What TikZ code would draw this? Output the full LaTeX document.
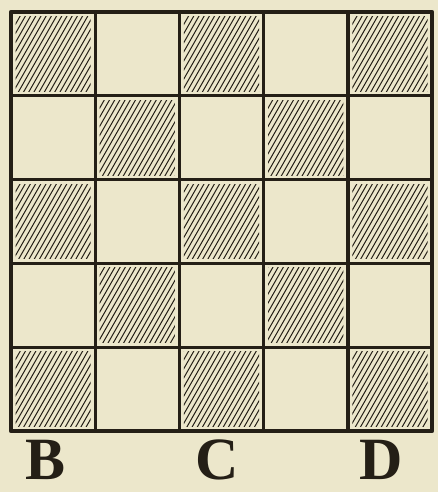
\documentclass[tikz,border=0pt]{standalone}
\usepackage{fontspec}
\setmainfont{Liberation Serif}
\definecolor{paper}{RGB}{236,231,203}
\definecolor{ink}{RGB}{36,31,22}
\begin{document}
\begin{tikzpicture}[x=1pt,y=-1pt,
  gridline/.style={ink, line width=3.4pt, line cap=round},
  border/.style={ink, line width=4.2pt, line join=round},
  hatch/.style={ink, line width=1pt},
  letter/.style={font=\bfseries\fontsize{60}{60}\selectfont, text=ink, inner sep=0pt}]
\fill[paper] (0,0) rectangle (438,492);
\useasboundingbox (0,0) rectangle (438,492);
% hatched squares
\foreach \r in {0,...,4}{
  \foreach \c in {0,...,4}{
    \pgfmathtruncatemacro\p{mod(\r+\c,2)}
    \ifnum\p=0
      \pgfmathsetmacro\xa{11+84.2*\c}
      \pgfmathsetmacro\ya{12+83.8*\r}
      \pgfmathsetmacro\xb{\xa+84.2}
      \pgfmathsetmacro\yb{\ya+83.8}
      \begin{scope}
        \clip (\xa+4.5,\ya+4.5) rectangle (\xb-4.5,\yb-4.5);
        \foreach \t in {-52,-46.8,...,92}{
          \draw[hatch] (\xa+\t,\yb) -- ++(48,-84);
        }
      \end{scope}
    \fi
  }
}
% grid lines
\foreach \i in {1,...,4}{
  \pgfmathsetmacro\gx{11+84.2*\i}
  \pgfmathsetmacro\gy{12+83.8*\i}
  \draw[gridline] (\gx,12) -- (\gx,431);
  \draw[gridline] (11,\gy) -- (432,\gy);
}
\draw[border] (11,12) rectangle (432,431);
% labels
\node[letter] (B) at (46,460) {B};
\node[letter] (C) at (217,460) {C};
\node[letter] (D) at (381,460) {D};
\end{tikzpicture}
\end{document}
